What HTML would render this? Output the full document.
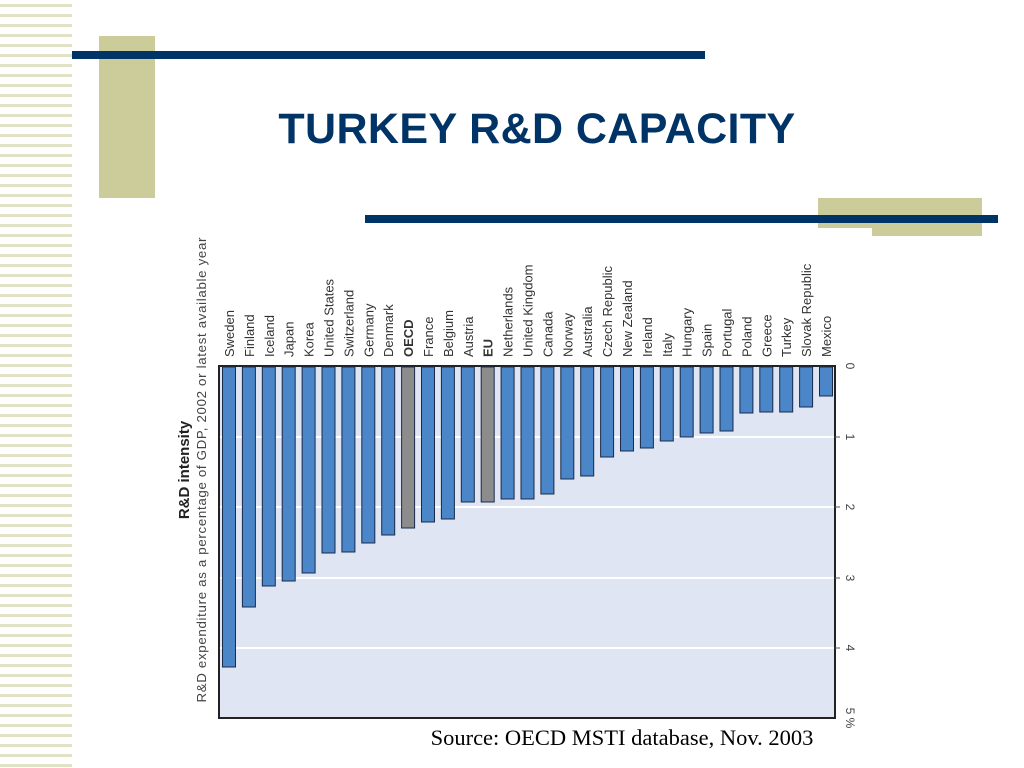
<!DOCTYPE html>
<html><head><meta charset="utf-8"><style>
body{margin:0;width:1024px;height:768px;background:#fff;overflow:hidden;position:relative;font-family:"Liberation Sans",sans-serif}
.stripes{position:absolute;left:0;top:0;width:72px;height:768px;background:repeating-linear-gradient(to bottom,#fff 0,#fff 4px,#e2e2c6 4px,#e2e2c6 7px,#fff 7px,#fff 10px)}
.r{position:absolute}
</style></head><body>
<div class="stripes"></div>
<div class="r" style="left:99px;top:36px;width:56px;height:162px;background:#cccc9a"></div>
<div class="r" style="left:72px;top:51px;width:633px;height:8px;background:#003366"></div>
<div class="r" style="left:818px;top:198px;width:164px;height:30px;background:#cccc9a"></div>
<div class="r" style="left:872px;top:228px;width:110px;height:8px;background:#cccc9a"></div>
<div class="r" style="left:365px;top:215px;width:633px;height:8px;background:#003366"></div>
<div class="r" style="left:0;top:104px;width:1074px;text-align:center;font-size:43px;letter-spacing:0.4px;font-weight:bold;color:#003366;line-height:50px">TURKEY R&amp;D CAPACITY</div>
<svg class="r" style="left:0;top:0" width="1024" height="768">
<rect x="219" y="366" width="616" height="352" fill="#dfe5f2" stroke="#222" stroke-width="2"/>
<g stroke="#fff" stroke-width="2">
<line x1="220" y1="437" x2="834" y2="437"/><line x1="220" y1="507" x2="834" y2="507"/><line x1="220" y1="578" x2="834" y2="578"/><line x1="220" y1="648" x2="834" y2="648"/>
</g>
<g stroke="#555" stroke-width="1"><line x1="835" y1="437" x2="840" y2="437"/><line x1="835" y1="507" x2="840" y2="507"/><line x1="835" y1="578" x2="840" y2="578"/><line x1="835" y1="648" x2="840" y2="648"/></g>
<g id="bars" stroke="#1a2a4a" stroke-width="1"></g>
<g id="labels" font-size="13" fill="#333"></g>
<g font-size="12" fill="#444">
<text transform="translate(846,366) rotate(90)" text-anchor="middle">0</text>
<text transform="translate(846,437) rotate(90)" text-anchor="middle">1</text>
<text transform="translate(846,507) rotate(90)" text-anchor="middle">2</text>
<text transform="translate(846,578) rotate(90)" text-anchor="middle">3</text>
<text transform="translate(846,648) rotate(90)" text-anchor="middle">4</text>
<text transform="translate(846,718) rotate(90)" text-anchor="middle">5 %</text>
</g>
<text transform="translate(189,470) rotate(-90)" text-anchor="middle" font-size="15" font-weight="bold" fill="#222">R&amp;D intensity</text>
<text transform="translate(206,470) rotate(-90)" text-anchor="middle" font-size="13.3" fill="#444" textLength="465">R&amp;D expenditure as a percentage of GDP, 2002 or latest available year</text>
<text x="622" y="745" text-anchor="middle" font-family="Liberation Serif" font-size="22.5" fill="#000">Source: OECD MSTI database, Nov. 2003</text>
</svg>
<script>
var names=["Sweden","Finland","Iceland","Japan","Korea","United States","Switzerland","Germany","Denmark","OECD","France","Belgium","Austria","EU","Netherlands","United Kingdom","Canada","Norway","Australia","Czech Republic","New Zealand","Ireland","Italy","Hungary","Spain","Portugal","Poland","Greece","Turkey","Slovak Republic","Mexico"];
var bot=[667,607,586,581,573,553,552,543,535,528,522,519,502,502,499,499,494,479,476,457,451,448,441,437,433,431,413,412,412,407,396];
var ns="http://www.w3.org/2000/svg",b=document.getElementById("bars"),l=document.getElementById("labels");
for(var i=0;i<31;i++){var cx=229+i*19.9;var r=document.createElementNS(ns,"rect");
r.setAttribute("x",cx-6.5);r.setAttribute("y",367);r.setAttribute("width",13);r.setAttribute("height",bot[i]-367);
r.setAttribute("fill",(names[i]=="OECD"||names[i]=="EU")?"#8c8c8c":"#4a86c8");b.appendChild(r);
var t=document.createElementNS(ns,"text");t.setAttribute("transform","translate("+(cx+5)+",357) rotate(-90)");
if(names[i]=="OECD"||names[i]=="EU")t.setAttribute("font-weight","bold");t.textContent=names[i];l.appendChild(t);}
</script>
</body></html>
